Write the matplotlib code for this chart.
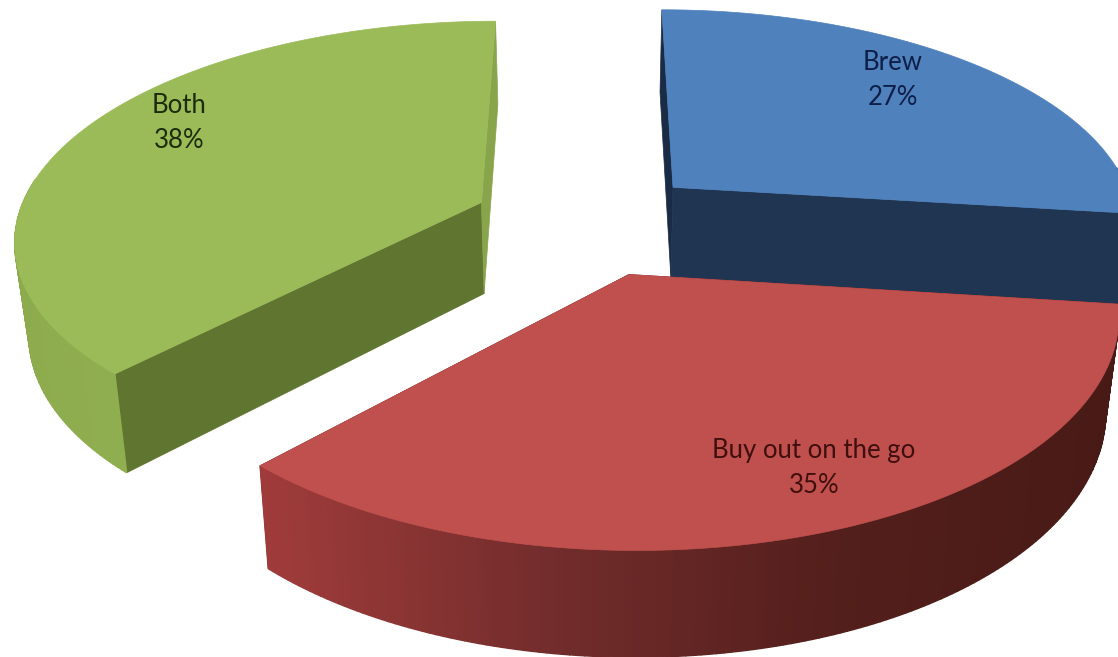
import numpy as np
import matplotlib
matplotlib.use("Agg")
import matplotlib.pyplot as plt
from matplotlib.colors import LinearSegmentedColormap

labels = ["Brew", "Buy out on the go", "Both"]
shares = [27, 35, 38]

top_colors = ["#4f81bd", "#c0504d", "#9bbb59"]
first_face_colors = ["#1a2c45", "#5a1f1d", "#5f7530"]
last_face_colors = ["#1f3552", "#5a1f1d", "#88a54b"]
wall_stops = [["#1f3552", "#1f3552"],
              ["#a03c3b", "#732d2c", "#541f1c", "#481a16"],
              ["#8fae4f", "#86a346"]]
text_colors = ["#0d1f48", "#3f0f0e", "#1d2c08"]
label_xy = [(893, 80), (814, 468), (179, 123)]

cx, cy = 588.0, 222.0
radius_x, radius_y = 465.0, 215.0
persp = 0.155
explode = 0.25
depth = 92.0


def project(u, v):
    s = 1.0 / (1.0 + persp * v)
    return cx + radius_x * u * s, cy - radius_y * v * s


def drop(x, y):
    # bottom rim of the extruded pie, slightly pulled in towards the middle
    return cx + (x - cx) * 0.975, y + depth + 0.045 * (y - cy)


fig = plt.figure(figsize=(11.18, 6.57), dpi=100)
ax = fig.add_axes([0, 0, 1, 1])
ax.set_xlim(0, 1118)
ax.set_ylim(657, 0)
ax.axis("off")

edges = np.cumsum([0] + shares) / sum(shares) * 2 * np.pi
slices = []
for i in range(len(shares)):
    mid = (edges[i] + edges[i + 1]) / 2
    du, dv = explode * np.sin(mid), explode * np.cos(mid)
    theta = np.linspace(edges[i], edges[i + 1], 160)
    rim_x, rim_y = project(du + np.sin(theta), dv + np.cos(theta))
    apex_x, apex_y = project(du, dv)
    slices.append((theta, rim_x, rim_y, apex_x, apex_y))

# back slice first, front slice last
for i in [0, 2, 1]:
    theta, rim_x, rim_y, apex_x, apex_y = slices[i]
    low_x, low_y = drop(rim_x, rim_y)
    apex_lx, apex_ly = drop(apex_x, apex_y)

    # cut faces
    ax.fill([apex_x, rim_x[0], low_x[0], apex_lx],
            [apex_y, rim_y[0], low_y[0], apex_ly],
            color=first_face_colors[i], lw=0.5, zorder=i + 1)
    ax.fill([apex_x, rim_x[-1], low_x[-1], apex_lx],
            [apex_y, rim_y[-1], low_y[-1], apex_ly],
            color=last_face_colors[i], lw=0.5, zorder=i + 1)

    # outer wall, shaded strip by strip, only where it faces the viewer
    cmap = LinearSegmentedColormap.from_list("wall", wall_stops[i])
    span = rim_x.max() - rim_x.min()
    for j in range(len(rim_x) - 1):
        if np.cos(theta[j]) > 0.1:
            continue
        if i == 1:
            shade = (rim_x[j] - rim_x.min()) / span
        else:
            shade = j / (len(rim_x) - 1)
        ax.fill([rim_x[j], rim_x[j + 1], low_x[j + 1], low_x[j]],
                [rim_y[j], rim_y[j + 1], low_y[j + 1], low_y[j]],
                color=cmap(shade), lw=1.0, zorder=i + 1)

    # top surface
    ax.fill(np.r_[apex_x, rim_x], np.r_[apex_y, rim_y],
            color=top_colors[i], lw=0.5, zorder=i + 1)

for name, share, (tx, ty), col in zip(labels, shares, label_xy, text_colors):
    ax.text(tx, ty, f"{name}\n{share}%", ha="center", va="center",
            family="Lato", fontsize=18.5, color=col, linespacing=1.5, zorder=10)

fig.savefig("out.png", dpi=100)
